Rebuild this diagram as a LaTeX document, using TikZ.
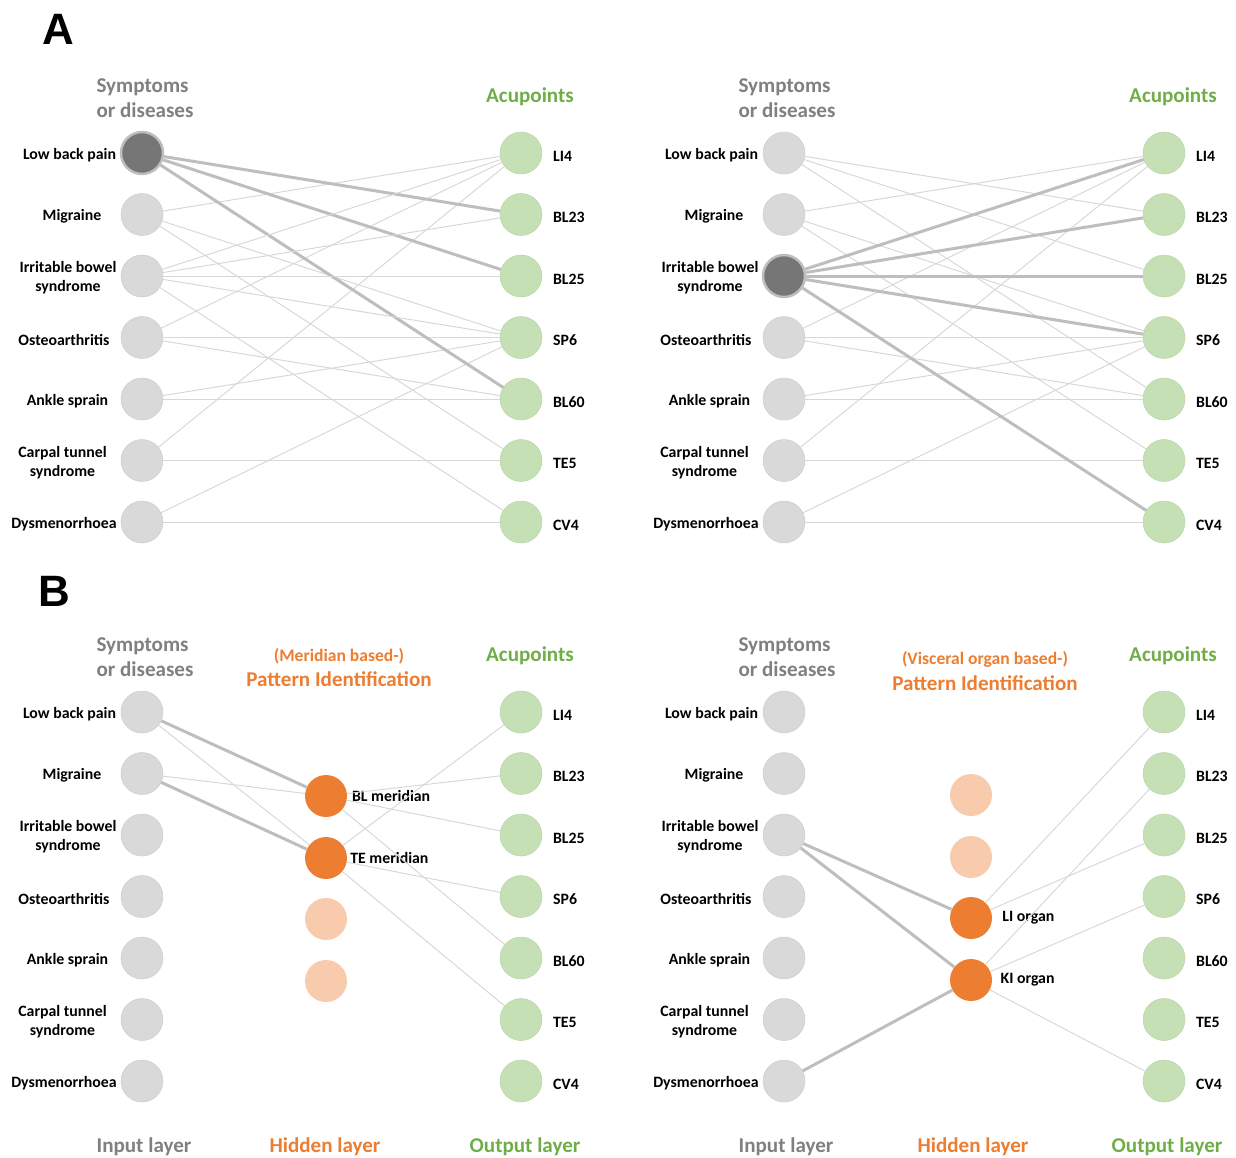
\documentclass[tikz,border=0pt]{standalone}
\usepackage{fontspec}
\setmainfont{Carlito}
\newfontfamily\panelfont{Liberation Sans}
\usetikzlibrary{positioning}
\definecolor{symGrey}{RGB}{217, 217, 217}
\definecolor{symDark}{RGB}{118, 118, 118}
\definecolor{headGrey}{RGB}{128, 128, 128}
\definecolor{acuGreen}{RGB}{197, 224, 180}
\definecolor{acuText}{RGB}{112, 173, 71}
\definecolor{patOrange}{RGB}{237, 125, 49}
\definecolor{patLight}{RGB}{248, 203, 173}
\definecolor{edgeThin}{RGB}{215, 215, 215}
\definecolor{edgeThick}{RGB}{190, 190, 190}

\begin{document}
\begin{tikzpicture}[x=0.02cm, y=-0.02cm,
  font=\bfseries\fontsize{9}{10.8}\selectfont,
  vnode/.style={circle, minimum size=8.4mm, inner sep=0pt},
  snode/.style={vnode, fill=symGrey, draw=symGrey!95!black, line width=0.3pt},
  dnode/.style={fill=symDark, draw=edgeThick, line width=1.4pt},
  anode/.style={vnode, fill=acuGreen, draw=acuGreen!95!black, line width=0.3pt},
  hnode/.style={vnode, fill=patOrange},
  hlight/.style={vnode, fill=patLight},
  lbl/.style={inner sep=1pt, align=center},
  head/.style={font=\bfseries\fontsize{12}{14.2}\selectfont, inner sep=0pt},
  thin/.style={draw=edgeThin, line width=0.55pt},
  thick/.style={draw=edgeThick, line width=1.7pt},
  al-lbp/.style={dnode}, ar-ibs/.style={dnode}]
  \useasboundingbox (0,0) rectangle (1236,1157);

  % Panel letters
  \node[font=\panelfont\bfseries\fontsize{25}{30}\selectfont] (labA) at (58,29) {A};
  \node[font=\panelfont\bfseries\fontsize{25}{30}\selectfont] (labB) at (54,591) {B};

  % Input and output columns of the four networks
  \foreach \p/\xl/\xr/\y in {al/142/521/153, ar/784/1164/153, bl/142/521/712, br/784/1164/712} {
    \foreach \n/\t/\dx [count=\i from 0] in {lbp/Low back pain/72.5, mig/Migraine/70,
        ibs/{Irritable bowel\\syndrome}/74, oa/Osteoarthritis/78, as/Ankle sprain/74.5,
        cts/{Carpal tunnel\\syndrome}/79.5, dys/Dysmenorrhoea/78} {
      \node[snode, \p-\n/.try] (\p-\n) at (\xl, \y+61.5*\i) {};
      \node[lbl] (\p-\n-t) at (\xl-\dx, \y+61.5*\i+2) {\t};
    }
    \foreach \n/\t [count=\i from 0] in {li4/LI4, bl23/BL23, bl25/BL25, sp6/SP6, bl60/BL60, te5/TE5, cv4/CV4} {
      \node[anode] (\p-\n) at (\xr, \y+61.5*\i) {};
      \node[lbl, anchor=west] (\p-\n-t) at (\xr+30, \y+61.5*\i+3) {\t};
    }
    % column headings
    \node[head, headGrey, align=left] (\p-sym) at (\xl+3, \y-54.5) {Symptoms\\or diseases};
    \node[head, acuText] (\p-acu) at (\xr+9, \y-56) {Acupoints};
  }

  % Hidden layer, meridian based
  \node[hnode] (bl-blm) at (326,796) {};
  \node[hnode] (bl-tem) at (326,858) {};
  \node[hlight] (bl-h3) at (326,919) {};
  \node[hlight] (bl-h4) at (326,981) {};
  \node[lbl, right=1.5pt of bl-blm] (bl-blm-t) {BL meridian};
  \node[lbl, right=0.5pt of bl-tem] (bl-tem-t) {TE meridian};
  % Hidden layer, visceral organ based
  \node[hlight] (br-h1) at (971,795) {};
  \node[hlight] (br-h2) at (971,857) {};
  \node[hnode] (br-lio) at (971,918) {};
  \node[hnode] (br-kio) at (971,980) {};
  \node[lbl, right=4.5pt of br-lio] (br-lio-t) {LI organ};
  \node[lbl, right=3.5pt of br-kio] (br-kio-t) {KI organ};

  \node[head, patOrange, align=center] (bl-pat) at (339,668)
    {{\fontsize{10}{12}\selectfont (Meridian based-)}\\Pattern Identification};
  \node[head, patOrange, align=center] (br-pat) at (985,671)
    {{\fontsize{10}{12}\selectfont (Visceral organ based-)}\\[1pt]Pattern Identification};

  % Layer names
  \node[head, headGrey] (bl-in) at (144,1147) {Input layer};
  \node[head, patOrange] (bl-hid) at (325,1147) {Hidden layer};
  \node[head, acuText] (bl-out) at (525,1147) {Output layer};
  \node[head, headGrey] (br-in) at (786,1147) {Input layer};
  \node[head, patOrange] (br-hid) at (973,1147) {Hidden layer};
  \node[head, acuText] (br-out) at (1167,1147) {Output layer};

  % Panel A: symptom-acupoint links
  \foreach \p in {al, ar} {
    \foreach \s/\a in {mig/li4, mig/sp6, mig/te5, oa/li4, oa/sp6, oa/bl60,
        as/sp6, as/bl60, cts/li4, cts/te5, dys/sp6, dys/cv4}
      \draw[thin] (\p-\s) -- (\p-\a);
  }
  \foreach \a in {bl23, bl25, bl60} {
    \draw[thick] (al-lbp) -- (al-\a);
    \draw[thin] (ar-lbp) -- (ar-\a);
  }
  \foreach \a in {li4, bl23, bl25, sp6, cv4} {
    \draw[thin] (al-ibs) -- (al-\a);
    \draw[thick] (ar-ibs) -- (ar-\a);
  }

  % Panel B: meridian based links
  \draw[thick] (bl-lbp) -- (bl-blm);
  \draw[thin] (bl-lbp) -- (bl-tem);
  \draw[thin] (bl-mig) -- (bl-blm);
  \draw[thick] (bl-mig) -- (bl-tem);
  \foreach \a in {bl23, bl25, bl60}
    \draw[thin] (bl-blm) -- (bl-\a);
  \foreach \a in {li4, sp6, te5}
    \draw[thin] (bl-tem) -- (bl-\a);

  % Panel B: visceral organ based links
  \draw[thick] (br-ibs) -- (br-lio);
  \draw[thick] (br-ibs) -- (br-kio);
  \draw[thick] (br-dys) -- (br-kio);
  \foreach \a in {li4, bl25}
    \draw[thin] (br-lio) -- (br-\a);
  \foreach \a in {bl23, sp6, cv4}
    \draw[thin] (br-kio) -- (br-\a);
\end{tikzpicture}
\end{document}
